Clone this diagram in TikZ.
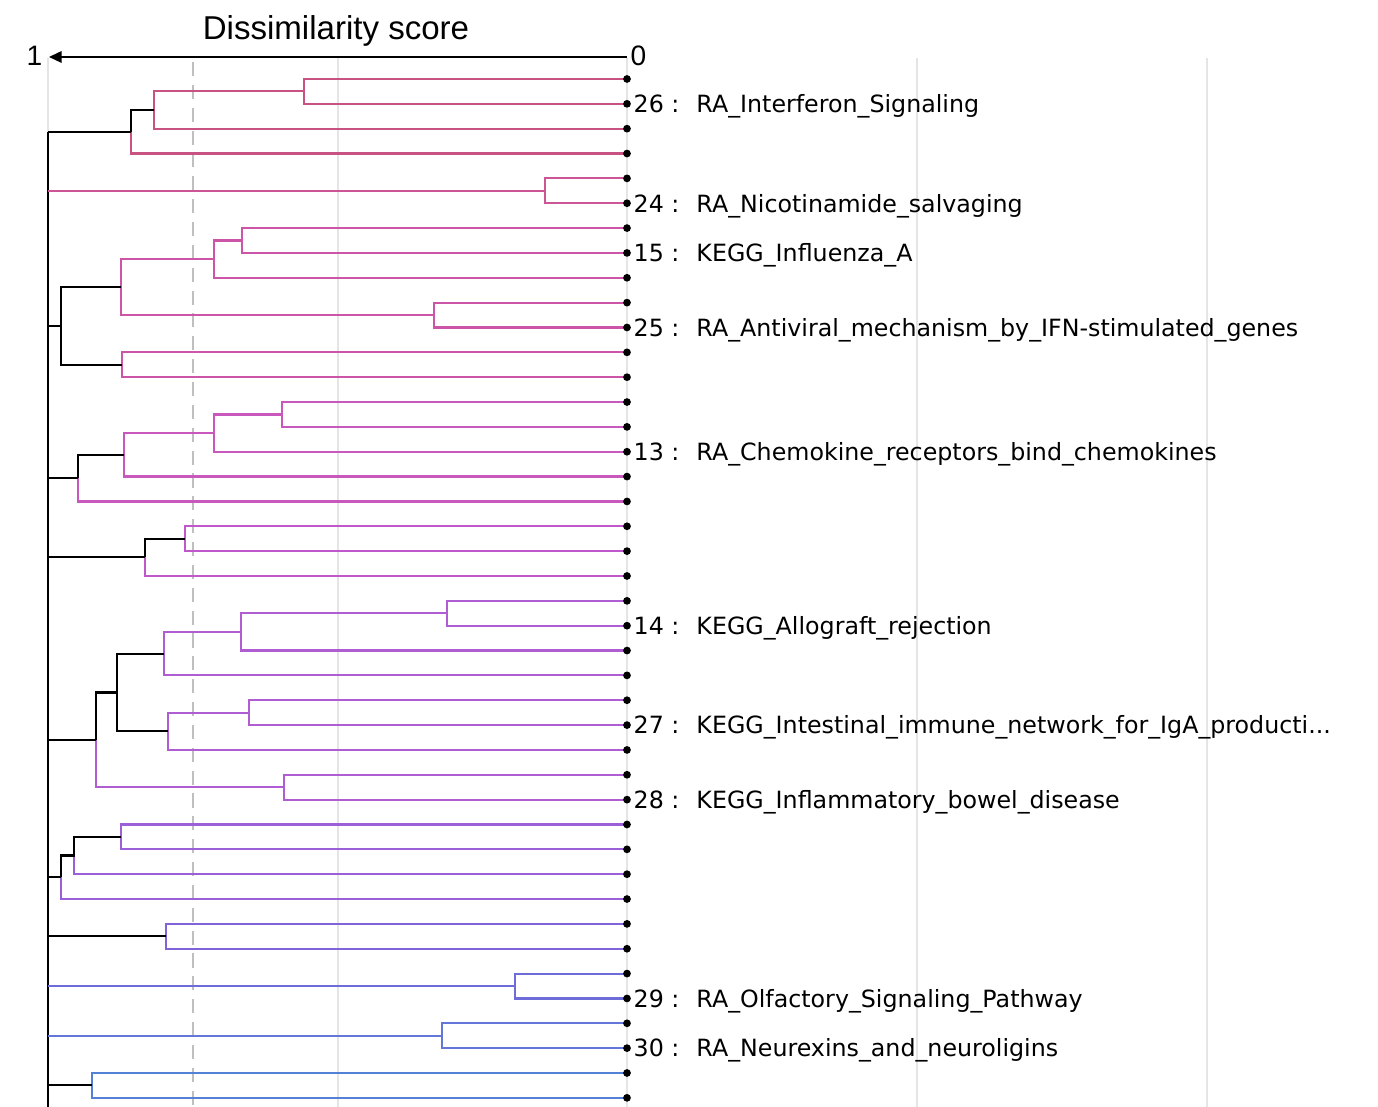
\documentclass[tikz,border=0pt]{standalone}
\usepackage{fontspec}
\setmainfont{Liberation Sans}
\newfontfamily\labfont{DejaVu Sans}
\usetikzlibrary{arrows.meta}
\definecolor{dA}{RGB}{200,82,130}
\definecolor{dB}{RGB}{204,85,150}
\definecolor{dC}{RGB}{204,85,168}
\definecolor{dD}{RGB}{200,88,190}
\definecolor{dE}{RGB}{192,88,203}
\definecolor{dF}{RGB}{176,92,210}
\definecolor{dG}{RGB}{155,95,215}
\definecolor{dH}{RGB}{128,99,216}
\definecolor{dI}{RGB}{110,108,216}
\definecolor{dJ}{RGB}{100,118,216}
\definecolor{dK}{RGB}{85,128,216}

\begin{document}
\begin{tikzpicture}[x=0.01cm, y=-0.01cm,
  lnk/.style={line width=0.62pt},
  gridline/.style={black!10, line width=0.3pt},
  leafdot/.style={circle, fill=black, inner sep=0pt, minimum size=2.2pt},
  lab/.style={anchor=base west, inner sep=0pt, yshift=-2.5pt, font=\fontsize{6.75}{8}\selectfont\labfont}]
\useasboundingbox (0,0) rectangle (1378,1107);
% grid and cut-off line
\foreach \gx in {48,338,627,917,1207}
  \draw[gridline] (\gx,58) -- (\gx,1107);
\draw[black!25, line width=0.8pt, dash pattern=on 4pt off 2.5pt] (193,62) -- (193,1107);
% score axis
\coordinate (ax0) at (627,57);
\coordinate (ax1) at (49,57);
\draw[line width=0.45pt, -{Triangle[length=3.6pt,width=3.3pt]}] (ax0) -- (ax1);
\node[anchor=east, inner sep=0pt, font=\fontsize{8}{9}\selectfont] (one) at (43,56) {1};
\node[anchor=west, inner sep=0pt, font=\fontsize{8}{9}\selectfont] (zero) at (630,56) {0};
\node[font=\fontsize{9.4}{11}\selectfont] (title) at (336,31) {Dissimilarity score};
% leaves
\foreach \i in {0,...,41}
  \coordinate (l\i) at (627,{79+24.85*\i});
% merge points
\coordinate (a1) at (304,91.4);   \coordinate (a2) at (154,110.05); \coordinate (a3) at (131,131.8);
\coordinate (b1) at (545,190.8);
\coordinate (c1) at (242,240.5);  \coordinate (c2) at (214,259.15); \coordinate (c3) at (434,315.1);
\coordinate (c4) at (121,287.1);  \coordinate (c5) at (122,364.8);  \coordinate (c6) at (61,325.95);
\coordinate (d1) at (282,414.5);  \coordinate (d2) at (214,433.1);  \coordinate (d3) at (124,454.85);
\coordinate (d4) at (78,478.15);
\coordinate (e1) at (185,538.7);  \coordinate (e2) at (145,557.35);
\coordinate (f1) at (447,613.3);  \coordinate (f2) at (241,631.9);  \coordinate (f3) at (164,653.65);
\coordinate (f4) at (249,712.7);  \coordinate (f5) at (168,731.3);  \coordinate (f6) at (117,692.5);
\coordinate (f7) at (284,787.2);  \coordinate (f8) at (96,739.85);
\coordinate (g1) at (121,836.9);  \coordinate (g2) at (74,855.55);  \coordinate (g3) at (61,877.3);
\coordinate (h1) at (166,936.3);
\coordinate (i1) at (515,986);
\coordinate (j1) at (442,1035.7);
\coordinate (k1) at (92,1085.4);
\coordinate (rtop) at (48,131.8);
\coordinate (rbot) at (48,1107);
% cluster links
\draw[lnk, dA] (l0) -| (a1) |- (l1);
\draw[lnk, dA] (a1) -| (a2) |- (l2);
\draw[lnk, dA] (a3) |- (l3);
\draw[lnk] (a2) -| (a3);
\draw[lnk, dB] (l4) -| (b1) |- (l5);
\draw[lnk, dC] (l6) -| (c1) |- (l7);
\draw[lnk, dC] (c1) -| (c2) |- (l8);
\draw[lnk, dC] (l9) -| (c3) |- (l10);
\draw[lnk, dC] (c2) -| (c4) |- (c3);
\draw[lnk, dC] (l11) -| (c5) |- (l12);
\draw[lnk] (c4) -| (c6) |- (c5);
\draw[lnk, dD] (l13) -| (d1) |- (l14);
\draw[lnk, dD] (d1) -| (d2) |- (l15);
\draw[lnk, dD] (d2) -| (d3) |- (l16);
\draw[lnk, dD] (d4) |- (l17);
\draw[lnk] (d3) -| (d4);
\draw[lnk, dE] (l18) -| (e1) |- (l19);
\draw[lnk, dE] (e2) |- (l20);
\draw[lnk] (e1) -| (e2);
\draw[lnk, dF] (l21) -| (f1) |- (l22);
\draw[lnk, dF] (f1) -| (f2) |- (l23);
\draw[lnk, dF] (f2) -| (f3) |- (l24);
\draw[lnk, dF] (l25) -| (f4) |- (l26);
\draw[lnk, dF] (f4) -| (f5) |- (l27);
\draw[lnk] (f3) -| (f6) |- (f5);
\draw[lnk, dF] (l28) -| (f7) |- (l29);
\draw[lnk, dF] (f8) |- (f7);
\draw[lnk] (f6) -| (f8);
\draw[lnk, dG] (l30) -| (g1) |- (l31);
\draw[lnk, dG] (g2) |- (l32);
\draw[lnk, dG] (g3) |- (l33);
\draw[lnk] (g1) -| (g2) -| (g3);
\draw[lnk, dH] (l34) -| (h1) |- (l35);
\draw[lnk, dI] (l36) -| (i1) |- (l37);
\draw[lnk, dJ] (l38) -| (j1) |- (l39);
\draw[lnk, dK] (l40) -| (k1) |- (l41);
% root
\draw[lnk] (rtop) -- (rbot);
\draw[lnk] (a3) -- (a3 -| rtop);
\draw[lnk, dB] (b1) -- (b1 -| rtop);
\draw[lnk] (c6) -- (c6 -| rtop);
\draw[lnk] (d4) -- (d4 -| rtop);
\draw[lnk] (e2) -- (e2 -| rtop);
\draw[lnk] (f8) -- (f8 -| rtop);
\draw[lnk] (g3) -- (g3 -| rtop);
\draw[lnk] (h1) -- (h1 -| rtop);
\draw[lnk, dI] (i1) -- (i1 -| rtop);
\draw[lnk, dJ] (j1) -- (j1 -| rtop);
\draw[lnk] (k1) -- (k1 -| rtop);
% leaf dots
\foreach \i in {0,...,41}
  \node[leafdot] (p\i) at (l\i) {};
% pathway labels
\node[lab] (t26) at ([xshift=1.7pt]l1)  {26 :\hspace{0.72em}RA\_Interferon\_Signaling};
\node[lab] (t24) at ([xshift=1.7pt]l5)  {24 :\hspace{0.72em}RA\_Nicotinamide\_salvaging};
\node[lab] (t15) at ([xshift=1.7pt]l7)  {15 :\hspace{0.72em}KEGG\_Influenza\_A};
\node[lab] (t25) at ([xshift=1.7pt]l10) {25 :\hspace{0.72em}RA\_Antiviral\_mechanism\_by\_IFN-stimulated\_genes};
\node[lab] (t13) at ([xshift=1.7pt]l15) {13 :\hspace{0.72em}RA\_Chemokine\_receptors\_bind\_chemokines};
\node[lab] (t14) at ([xshift=1.7pt]l22) {14 :\hspace{0.72em}KEGG\_Allograft\_rejection};
\node[lab] (t27) at ([xshift=1.7pt]l26) {27 :\hspace{0.72em}KEGG\_Intestinal\_immune\_network\_for\_IgA\_producti...};
\node[lab] (t28) at ([xshift=1.7pt]l29) {28 :\hspace{0.72em}KEGG\_Inflammatory\_bowel\_disease};
\node[lab] (t29) at ([xshift=1.7pt]l37) {29 :\hspace{0.72em}RA\_Olfactory\_Signaling\_Pathway};
\node[lab] (t30) at ([xshift=1.7pt]l39) {30 :\hspace{0.72em}RA\_Neurexins\_and\_neuroligins};
\end{tikzpicture}
\end{document}
